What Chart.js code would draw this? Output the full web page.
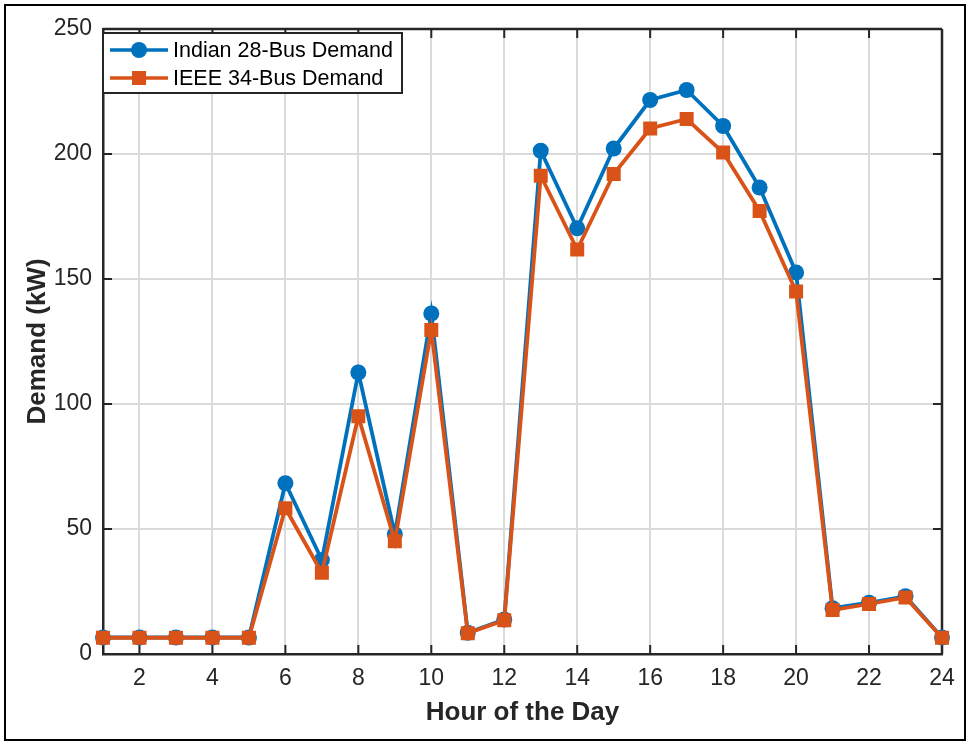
<!DOCTYPE html>
<html>
<head>
<meta charset="utf-8">
<title>Hourly Demand</title>
<script src="https://cdn.jsdelivr.net/npm/chart.js@4.4.1/dist/chart.umd.min.js"></script>
<style>
  html, body { margin: 0; padding: 0; background: #fff; }
  #wrap { position: relative; width: 969px; height: 743px; }
</style>
</head>
<body>
<div id="wrap"><canvas id="demandChart" width="969" height="743"></canvas></div>
<script>
// ---------- DATA ----------
const hours = [1, 2, 3, 4, 5, 6, 7, 8, 9, 10, 11, 12, 13, 14, 15, 16, 17, 18, 19, 20, 21, 22, 23, 24];
const indianDemand = [6.6, 6.6, 6.6, 6.6, 6.6, 68.3, 37.6, 112.6, 47.9, 136.2, 8.5, 13.8, 201.3, 170.3, 202.2, 221.6, 225.6, 211.2, 186.6, 152.6, 18.3, 20.5, 23.1, 6.6];
const ieeeDemand   = [6.5, 6.5, 6.5, 6.5, 6.5, 58.3, 32.5, 95.1, 45.1, 129.6, 8.3, 13.5, 191.3, 161.8, 192.0, 210.2, 214.0, 200.6, 177.2, 145.0, 17.6, 20.0, 22.6, 6.5];
const seriesNames = ['Indian 28-Bus Demand', 'IEEE 34-Bus Demand'];
const xTicks = [2, 4, 6, 8, 10, 12, 14, 16, 18, 20, 22, 24];
const yTicks = [0, 50, 100, 150, 200, 250];

const FONT = "'Liberation Sans', Arial, Helvetica, sans-serif";
const AXIS = '#262626';
const BLUE = '#0072BD';
const ORANGE = '#D95319';

// ---------- MATLAB style box, inward ticks, legend, frame ----------
const matlabBox = {
    id: 'matlabBox',
    beforeDatasetsDraw(chart) {
        const {ctx, chartArea: a, scales: {x, y}} = chart;
        ctx.save();
        ctx.strokeStyle = AXIS;
        ctx.lineWidth = 2.5;
        ctx.beginPath();
        ctx.moveTo(a.left, a.top); ctx.lineTo(a.right, a.top);
        ctx.moveTo(a.right, a.top); ctx.lineTo(a.right, a.bottom);
        ctx.stroke();
        ctx.lineWidth = 2;
        ctx.beginPath();
        xTicks.forEach(v => {
            const px = x.getPixelForValue(v);
            ctx.moveTo(px, a.bottom); ctx.lineTo(px, a.bottom - 9);
            ctx.moveTo(px, a.top); ctx.lineTo(px, a.top + 9);
        });
        yTicks.forEach(v => {
            const py = y.getPixelForValue(v);
            ctx.moveTo(a.left, py); ctx.lineTo(a.left + 9, py);
            ctx.moveTo(a.right, py); ctx.lineTo(a.right - 9, py);
        });
        ctx.stroke();
        ctx.restore();
    },
    afterDraw(chart) {
        const {ctx, chartArea: a} = chart;
        ctx.save();
        // legend box
        const lx = a.left, ly = a.top + 4, lw = 299, lh = 60;
        ctx.fillStyle = '#fff';
        ctx.fillRect(lx, ly, lw, lh);
        ctx.strokeStyle = AXIS;
        ctx.lineWidth = 2;
        ctx.strokeRect(lx, ly, lw, lh);
        ctx.font = '21.5px ' + FONT;
        ctx.textBaseline = 'middle';
        ctx.textAlign = 'left';
        chart.data.datasets.slice().sort((p, q) => p.legendIndex - q.legendIndex).forEach((ds, i) => {
            const ry = ly + 17 + i * 28;
            ctx.strokeStyle = ds.borderColor;
            ctx.lineWidth = 3.5;
            ctx.beginPath();
            ctx.moveTo(lx + 7, ry); ctx.lineTo(lx + 65, ry);
            ctx.stroke();
            ctx.fillStyle = ds.borderColor;
            ctx.beginPath();
            if (ds.pointStyle === 'circle') {
                ctx.arc(lx + 36, ry, 8, 0, Math.PI * 2);
            } else {
                ctx.rect(lx + 36 - 7, ry - 7, 14, 14);
            }
            ctx.fill();
            ctx.fillStyle = '#000';
            ctx.fillText(ds.label, lx + 70, ry + 1);
        });
        // outer frame
        ctx.strokeStyle = '#000';
        ctx.lineWidth = 2;
        ctx.strokeRect(5, 5, 960, 735);
        ctx.restore();
    }
};

new Chart(document.getElementById('demandChart'), {
    type: 'line',
    data: {
        datasets: [
            {
                label: seriesNames[1],
                legendIndex: 1,
                data: hours.map((h, i) => ({x: h, y: ieeeDemand[i]})),
                borderColor: ORANGE,
                backgroundColor: ORANGE,
                borderWidth: 3.8,
                pointStyle: 'rect',
                pointRadius: 9.9,
                pointBorderWidth: 0,
                pointBackgroundColor: ORANGE,
                tension: 0,
                order: 0
            },
            {
                label: seriesNames[0],
                legendIndex: 0,
                data: hours.map((h, i) => ({x: h, y: indianDemand[i]})),
                borderColor: BLUE,
                backgroundColor: BLUE,
                borderWidth: 3.8,
                pointStyle: 'circle',
                pointRadius: 8,
                pointBorderWidth: 0,
                pointBackgroundColor: BLUE,
                tension: 0,
                order: 1
            }
        ]
    },
    options: {
        responsive: false,
        animation: false,
        events: [],
        clip: false,
        layout: { padding: { left: 20, top: 29, right: 27, bottom: 9 } },
        plugins: { legend: { display: false }, tooltip: { enabled: false } },
        scales: {
            x: {
                type: 'linear',
                min: 1,
                max: 24,
                afterBuildTicks: s => { s.ticks = xTicks.map(v => ({value: v})); },
                afterFit: s => { s.height = 80; },
                grid: { color: '#dadada', lineWidth: 2, drawTicks: false },
                border: { display: true, color: AXIS, width: 2.5 },
                ticks: { color: AXIS, font: { family: FONT, size: 23 }, padding: 11, maxRotation: 0 },
                title: { display: true, text: 'Hour of the Day', color: AXIS,
                         font: { family: FONT, size: 26, weight: 'bold' }, padding: { top: 0, bottom: 6 } }
            },
            y: {
                min: 0,
                max: 250,
                afterBuildTicks: s => { s.ticks = yTicks.map(v => ({value: v})); },
                afterFit: s => { s.width = 83; },
                grid: { color: '#dadada', lineWidth: 2, drawTicks: false },
                border: { display: true, color: AXIS, width: 2.5 },
                ticks: { color: AXIS, font: { family: FONT, size: 23 }, padding: 11 },
                title: { display: true, text: 'Demand (kW)', color: AXIS,
                         font: { family: FONT, size: 26, weight: 'bold' }, padding: { top: 2, bottom: 0 } }
            }
        }
    },
    plugins: [matlabBox]
});
</script>
</body>
</html>
